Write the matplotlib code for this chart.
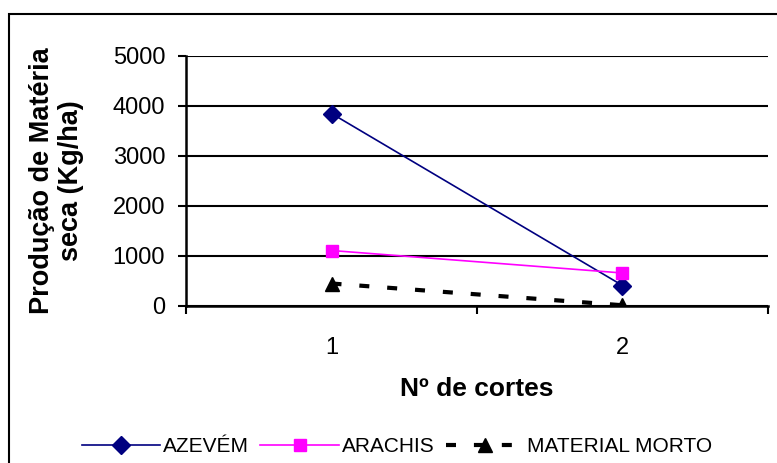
import matplotlib
matplotlib.use("Agg")
import matplotlib.pyplot as plt
from matplotlib.patches import Rectangle

plt.rcParams['font.family'] = ['Liberation Sans', 'DejaVu Sans']

cortes = [1, 2]
cortes_labels = ["1", "2"]
azevem = [3850, 410]
arachis = [1110, 660]
material_morto = [450, 15]
y_ticks = [0, 1000, 2000, 3000, 4000, 5000]

fig = plt.figure(figsize=(7.77, 4.63), dpi=100)

# outer chart frame
fig.patches.append(Rectangle((9 / 777, -0.05), 1.2, 1 - 14 / 463 + 0.05,
                             transform=fig.transFigure, fill=False,
                             edgecolor='black', linewidth=1.5))

ax = fig.add_axes([186 / 777, 1 - 306 / 463, (768 - 186) / 777, (306 - 56) / 463])

ax.plot(cortes, azevem, color='#000080', linewidth=1.2, marker='D',
        markersize=9, label='AZEVÉM', zorder=4)
ax.plot(cortes, arachis, color='#FF00FF', linewidth=1.2, marker='s',
        markersize=8, label='ARACHIS', zorder=4)
ax.plot(cortes, material_morto, color='black', linewidth=3, linestyle=(0, (2.4, 4.3)),
        marker='^', markersize=10, label='MATERIAL MORTO', zorder=4)

ax.set_xlim(0.5, 2.5)
ax.set_ylim(0, 5000)
ax.set_yticks(y_ticks)
ax.set_yticklabels([str(v) for v in y_ticks], fontsize=17)
ax.yaxis.grid(True, color='black', linewidth=1.5)
ax.set_axisbelow(True)

ax.set_xticks([0.5, 1.5, 2.5])
ax.set_xticklabels([])
ax.set_xticks(cortes, minor=True)
ax.set_xticklabels(cortes_labels, minor=True, fontsize=17)
ax.tick_params(axis='x', which='minor', length=0, pad=22)
ax.tick_params(axis='x', which='major', direction='out', length=6, width=1.5)
ax.tick_params(axis='y', direction='out', length=6, width=1.5, pad=9)

for side in ['top', 'right']:
    ax.spines[side].set_visible(False)
for side in ['left', 'bottom']:
    ax.spines[side].set_linewidth(1.8)

ax.set_xlabel('Nº de cortes', fontsize=19, fontweight='bold', labelpad=13)
ax.set_ylabel('Produção de Matéria\nseca (Kg/ha)', fontsize=19.5, fontweight='bold',
              linespacing=1.15)
ax.yaxis.set_label_coords(-0.175, 0.5)

fig.legend(loc='center', bbox_to_anchor=(0.511, 1 - 447 / 463), ncol=3,
           frameon=False, fontsize=15, handlelength=3.75, handletextpad=0.15,
           columnspacing=0.55)

fig.savefig('out.png', dpi=100)
